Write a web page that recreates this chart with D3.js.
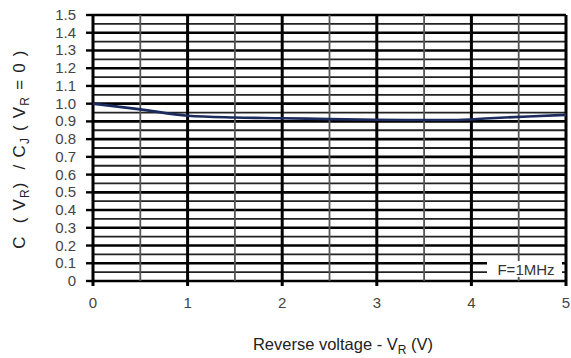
<!DOCTYPE html>
<html>
<head>
<meta charset="utf-8">
<script src="https://cdn.jsdelivr.net/npm/d3@7"></script>
<style>
body { margin: 0; background: #fff; }
text { font-family: "Liberation Sans", Arial, sans-serif; }
</style>
</head>
<body>
<script>
// curve
var voltage = [0, 0.5, 1, 1.5, 2, 2.5, 3, 3.5, 3.8, 4.2, 4.6, 5];
var capRatio = [1.0, 0.968, 0.932, 0.922, 0.918, 0.913, 0.909, 0.908, 0.908, 0.918, 0.928, 0.937];
var xTicks = [0, 1, 2, 3, 4, 5];
var yTicks = [0, 0.1, 0.2, 0.3, 0.4, 0.5, 0.6, 0.7, 0.8, 0.9, 1.0, 1.1, 1.2, 1.3, 1.4, 1.5];

var W = 571, H = 358;
var svg = d3.select("body").append("svg").attr("width", W).attr("height", H);

var x = d3.scaleLinear().domain([0, 5]).range([93, 566]);
var y = d3.scaleLinear().domain([0, 1.5]).range([281, 15]);

var grid = svg.append("g");
// horizontal lines every 0.05
d3.range(0, 31).forEach(function (i) {
    var v = i * 0.05;
    grid.append("line")
        .attr("x1", x(0)).attr("x2", x(5))
        .attr("y1", y(v)).attr("y2", y(v))
        .attr("stroke", i % 2 == 0 ? "#000" : "#222")
        .attr("stroke-width", i % 2 == 0 ? 2.6 : 1.8);
});
// vertical lines every 0.5
d3.range(0, 11).forEach(function (i) {
    var v = i * 0.5;
    grid.append("line")
        .attr("x1", x(v)).attr("x2", x(v))
        .attr("y1", y(1.5)).attr("y2", y(0) + (i % 2 == 0 ? 5 : 0))
        .attr("stroke", i % 2 == 0 ? "#000" : "#555")
        .attr("stroke-width", i % 2 == 0 ? 3 : 1.8);
});
// left ticks
yTicks.forEach(function (v) {
    grid.append("line")
        .attr("x1", x(0) - 7).attr("x2", x(0))
        .attr("y1", y(v)).attr("y2", y(v))
        .attr("stroke", "#000").attr("stroke-width", 2.4);
});

// label box
svg.append("rect").attr("x", 487).attr("y", 261).attr("width", 75).attr("height", 16).attr("fill", "#fff");
svg.append("text").attr("x", 526).attr("y", 275).attr("text-anchor", "middle")
    .attr("font-size", 15).attr("fill", "#333").text("F=1MHz");

// curve
var line = d3.line().x(function (d, i) { return x(voltage[i]); })
    .y(function (d) { return y(d); }).curve(d3.curveMonotoneX);
svg.append("path").datum(capRatio).attr("d", line)
    .attr("fill", "none").attr("stroke", "#1b2b5e").attr("stroke-width", 2.6);

// tick labels
svg.append("g").selectAll("text").data(yTicks).enter().append("text")
    .attr("x", 76).attr("y", function (d) { return y(d) + 5; })
    .attr("text-anchor", "end").attr("font-size", 15).attr("fill", "#444")
    .text(function (d) { return d == 0 ? "0" : d.toFixed(1); });
svg.append("g").selectAll("text").data(xTicks).enter().append("text")
    .attr("x", function (d) { return x(d); }).attr("y", 308)
    .attr("text-anchor", "middle").attr("font-size", 15).attr("fill", "#444")
    .text(function (d) { return d; });

// axis titles
var xt = svg.append("text").attr("x", 343).attr("y", 350).attr("text-anchor", "middle")
    .attr("font-size", 16.5).attr("fill", "#222");
xt.append("tspan").text("Reverse voltage - V");
xt.append("tspan").attr("dy", 4).attr("font-size", 12).text("R");
xt.append("tspan").attr("dy", -4).text(" (V)");

var yt = svg.append("text").attr("transform", "translate(25,149) rotate(-90)")
    .attr("text-anchor", "middle").attr("font-size", 17).attr("fill", "#222")
    .attr("letter-spacing", 1.2)
    .attr("xml:space", "preserve");
yt.append("tspan").text("C  ( V");
yt.append("tspan").attr("dy", 4).attr("font-size", 12).text("R");
yt.append("tspan").attr("dy", -4).text(")  / C");
yt.append("tspan").attr("dy", 4).attr("font-size", 12).text("J");
yt.append("tspan").attr("dy", -4).text(" ( V");
yt.append("tspan").attr("dy", 4).attr("font-size", 12).text("R");
yt.append("tspan").attr("dy", -4).text(" = 0 )");
</script>
</body>
</html>
